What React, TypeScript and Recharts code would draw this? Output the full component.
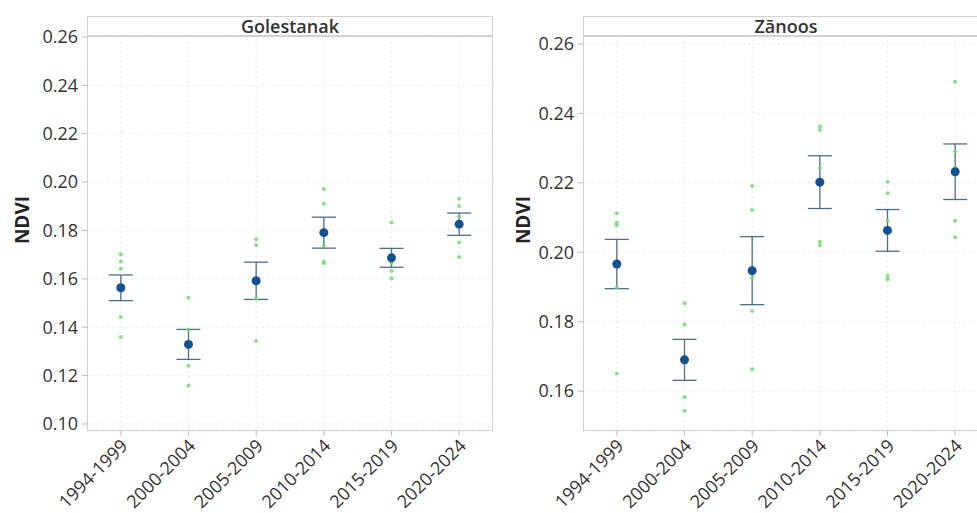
import React from 'react';
import { ScatterChart, Scatter, XAxis, YAxis, CartesianGrid, ErrorBar } from 'recharts';

const periods = ['1994-1999', '2000-2004', '2005-2009', '2010-2014', '2015-2019', '2020-2024'];

const golestanakObs: number[][] = [
  [0.1702, 0.1672, 0.1642, 0.1442, 0.136],
  [0.1522, 0.139, 0.1333, 0.1241, 0.1159],
  [0.1764, 0.174, 0.1596, 0.1517, 0.1343],
  [0.1971, 0.191, 0.1738, 0.1672, 0.1664],
  [0.1833, 0.17, 0.1667, 0.1632, 0.1603],
  [0.1931, 0.1901, 0.1858, 0.175, 0.169],
];
const golestanakMean = [0.1563, 0.1329, 0.1592, 0.1791, 0.1687, 0.1826];
const golestanakErr = [0.0053, 0.0062, 0.0077, 0.0064, 0.0039, 0.0046];
const golestanakTicks = [0.1, 0.12, 0.14, 0.16, 0.18, 0.2, 0.22, 0.24, 0.26];
const golestanakDomain: [number, number] = [0.0971, 0.2604];

const zanoosObs: number[][] = [
  [0.2112, 0.2085, 0.2078, 0.1898, 0.1651],
  [0.1853, 0.1792, 0.168, 0.1582, 0.1543],
  [0.2191, 0.2122, 0.1928, 0.1831, 0.1663],
  [0.2362, 0.2352, 0.2243, 0.203, 0.202],
  [0.2203, 0.217, 0.2091, 0.1932, 0.1922],
  [0.2491, 0.2291, 0.2244, 0.2091, 0.2043],
];
const zanoosMean = [0.1966, 0.169, 0.1947, 0.2202, 0.2063, 0.2232];
const zanoosErr = [0.0071, 0.0059, 0.0098, 0.0076, 0.006, 0.008];
const zanoosTicks = [0.16, 0.18, 0.2, 0.22, 0.24, 0.26];
const zanoosDomain: [number, number] = [0.1485, 0.2623];

const FONT = '"Open Sans", "Noto Sans", sans-serif';
const TEXT = '#333333';
const FRAME = '#d2d2d2';

const XTick = (props: any) => {
  const { x, y, payload } = props;
  return (
    <g transform={`translate(${x + 8},${y + 9})`}>
      <text textAnchor="end" transform="rotate(-45)" fontSize={18} fill={TEXT} fontFamily={FONT}>
        {payload.value}
      </text>
    </g>
  );
};

const GreenDot = (props: any) => (
  <circle cx={props.cx} cy={props.cy} r={2} fill="#6fdc6f" fillOpacity={0.85} />
);
const MeanDot = (props: any) => (
  <circle cx={props.cx} cy={props.cy} r={4.5} fill="#14508c" />
);

type PanelProps = {
  title: string;
  obs: number[][];
  mean: number[];
  err: number[];
  ticks: number[];
  domain: [number, number];
  left: number;
  yAxisWidth: number;
  marginRight: number;
  labelX: number;
};

const Panel = ({ title, obs, mean, err, ticks, domain, left, yAxisWidth, marginRight, labelX }: PanelProps) => {
  const obsData = obs.flatMap((vals, i) => vals.map((v) => ({ period: periods[i], ndvi: v })));
  const meanData = mean.map((m, i) => ({ period: periods[i], ndvi: m, err: err[i] }));
  const W = 500;
  const H = 513;
  const plotW = W - yAxisWidth - marginRight;
  return (
    <div style={{ position: 'absolute', left, top: 0, width: W, height: H }}>
      <ScatterChart width={W} height={H} margin={{ top: 36, right: marginRight, bottom: 0, left: 0 }}>
        <CartesianGrid stroke="#e9e9e9" strokeDasharray="2 3" />
        <XAxis
          dataKey="period"
          type="category"
          allowDuplicatedCategory={false}
          height={82}
          tick={<XTick />}
          tickSize={5}
          tickLine={{ stroke: '#bbbbbb' }}
          axisLine={false}
          interval={0}
        />
        <YAxis
          dataKey="ndvi"
          type="number"
          domain={domain}
          ticks={ticks}
          allowDataOverflow
          width={yAxisWidth}
          tickSize={5}
          tickMargin={4}
          tickLine={{ stroke: '#bbbbbb' }}
          axisLine={false}
          tickFormatter={(v: number) => v.toFixed(2)}
          tick={{ fontSize: 18, fill: TEXT, fontFamily: FONT }}
          label={{
            content: () => (
              <text
                x={labelX}
                y={220}
                transform={`rotate(-90, ${labelX}, 220)`}
                textAnchor="middle"
                dominantBaseline="central"
                fontSize={19}
                fontWeight={700}
                fill="#222"
                fontFamily={FONT}
              >
                NDVI
              </text>
            ),
          }}
        />
        <Scatter data={obsData} dataKey="ndvi" shape={<GreenDot />} isAnimationActive={false} />
        <Scatter data={meanData} dataKey="ndvi" shape={<MeanDot />} isAnimationActive={false}>
          <ErrorBar dataKey="err" direction="y" width={12} stroke="#4f6d88" strokeWidth={1.3} />
        </Scatter>
      </ScatterChart>
      <div
        style={{
          position: 'absolute',
          left: yAxisWidth,
          top: 16,
          width: plotW,
          height: 431 - 16,
          border: `1px solid ${FRAME}`,
          boxSizing: 'border-box',
          pointerEvents: 'none',
        }}
      />
      <div
        style={{
          position: 'absolute',
          left: yAxisWidth,
          top: 16,
          width: plotW,
          height: 21,
          borderBottom: `2px solid ${FRAME}`,
          boxSizing: 'border-box',
          background: '#fff',
          borderLeft: `1px solid ${FRAME}`,
          borderRight: `1px solid ${FRAME}`,
          borderTop: `1px solid ${FRAME}`,
          textAlign: 'center',
          fontFamily: FONT,
          fontSize: 18,
          fontWeight: 600,
          color: TEXT,
          lineHeight: '18px',
        }}
      >
        {title}
      </div>
    </div>
  );
};

export default function App() {
  return (
    <div style={{ position: 'absolute', left: 0, top: 0, width: 977, height: 513, overflow: 'hidden', background: '#fff' }}>
      <Panel
        title="Golestanak"
        obs={golestanakObs}
        mean={golestanakMean}
        err={golestanakErr}
        ticks={golestanakTicks}
        domain={golestanakDomain}
        left={0}
        yAxisWidth={87}
        marginRight={7}
        labelX={22}
      />
      <Panel
        title="Zānoos"
        obs={zanoosObs}
        mean={zanoosMean}
        err={zanoosErr}
        ticks={zanoosTicks}
        domain={zanoosDomain}
        left={500}
        yAxisWidth={83}
        marginRight={11}
        labelX={23}
      />
    </div>
  );
}
